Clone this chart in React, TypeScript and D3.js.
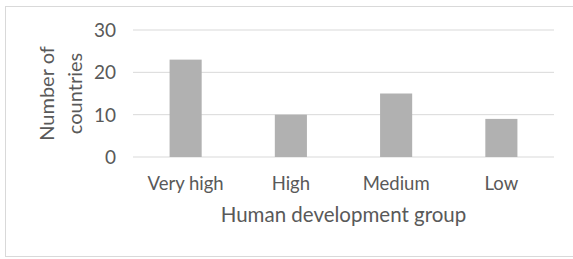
import React from 'react';
import { scaleLinear, scaleBand } from 'd3';

const groups = ['Very high', 'High', 'Medium', 'Low'];
const countries = [23, 10, 15, 9];
const yTicks = [0, 10, 20, 30];

const W = 573;
const H = 259;
const plot = { left: 133, right: 554, top: 30, bottom: 157 };
const textColor = '#595959';
const font = 'Lato, "Open Sans", sans-serif';

const App = () => {
  const x = scaleBand()
    .domain(groups)
    .range([plot.left, plot.right])
    .paddingInner(0.695)
    .paddingOuter(0.3475);

  const y = scaleLinear().domain([0, 30]).range([plot.bottom, plot.top]);

  const midX = (plot.left + plot.right) / 2;
  const midY = (plot.top + plot.bottom) / 2;

  return (
    <svg width={W} height={H} style={{ position: 'absolute', left: 0, top: 0 }} fontFamily={font}>
      <rect x={5.5} y={6.5} width={570} height={250} fill="#fff" stroke="#d9d9d9" strokeWidth={1} />
      {yTicks.map(t => (
        <g key={t}>
          <line x1={plot.left} x2={plot.right} y1={y(t)} y2={y(t)} stroke="#d9d9d9" strokeWidth={1} />
          <text x={116} y={y(t)} dy="0.36em" textAnchor="end" fontSize={19} fill={textColor}>{t}</text>
        </g>
      ))}
      {groups.map((g, i) => (
        <rect
          key={g}
          x={x(g)}
          y={y(countries[i])}
          width={x.bandwidth()}
          height={y(0) - y(countries[i])}
          fill="#b1b1b1"
        />
      ))}
      {groups.map(g => (
        <text key={g} x={(x(g) ?? 0) + x.bandwidth() / 2} y={190} textAnchor="middle" fontSize={18.5} fill={textColor}>{g}</text>
      ))}
      <text x={midX} y={222} textAnchor="middle" fontSize={20.5} fill={textColor}>Human development group</text>
      <g transform={`translate(0,${midY}) rotate(-90)`}>
        <text x={0} y={54} textAnchor="middle" fontSize={20} fill={textColor}>Number of</text>
        <text x={0} y={82} textAnchor="middle" fontSize={20} fill={textColor}>countries</text>
      </g>
    </svg>
  );
};

export default App;
